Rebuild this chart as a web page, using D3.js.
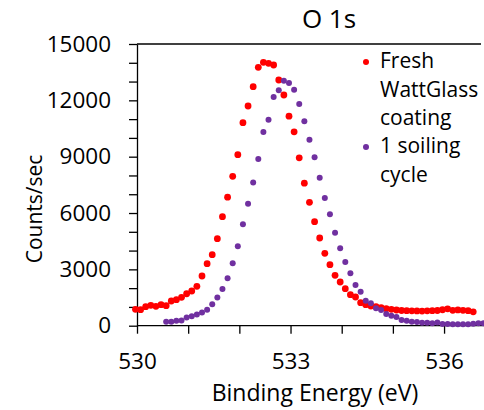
<!DOCTYPE html>
<html>
<head>
<meta charset="utf-8">
<script src="https://cdn.jsdelivr.net/npm/d3@7"></script>
<style>
  body { margin: 0; background: #fff; }
  svg { display: block; font-family: "Open Sans", sans-serif; }
</style>
</head>
<body>
<div id="chart"></div>
<script>
// binding energy grid (eV), shared by both scans
const energy = [
  529.97, 530.07, 530.17, 530.27, 530.37, 530.47, 530.57, 530.67, 530.77, 530.87,
  530.97, 531.07, 531.17, 531.27, 531.37, 531.47, 531.57, 531.67, 531.77, 531.87,
  531.97, 532.07, 532.17, 532.27, 532.37, 532.47, 532.57, 532.67, 532.77, 532.87,
  532.97, 533.07, 533.17, 533.27, 533.37, 533.47, 533.57, 533.67, 533.77, 533.87,
  533.97, 534.07, 534.17, 534.27, 534.37, 534.47, 534.57, 534.67, 534.77, 534.87,
  534.97, 535.07, 535.17, 535.27, 535.37, 535.47, 535.57, 535.67, 535.77, 535.87,
  535.97, 536.07, 536.17, 536.27, 536.37, 536.47, 536.57, 536.67, 536.77
];

// Fresh WattGlass coating (529.97 .. 536.57)
const freshCounts = [
  873, 852, 1012, 1086, 1033, 1118, 1065, 1315, 1385, 1512,
  1700, 1848, 2098, 2647, 3302, 3781, 4633, 5804, 6843, 7956,
  9106, 10810, 11699, 12727, 13760, 14026, 13973, 13882, 13084, 12285,
  11156, 10325, 8941, 7588, 6571, 5538, 4670, 3855, 3248, 2684,
  2327, 1970, 1651, 1528, 1225, 1118, 1049, 1012, 958, 905,
  873, 836, 810, 800, 790, 785, 780, 790, 800, 810,
  850, 900, 820, 840, 820, 800, 740
];

// 1 soiling cycle (530.57 .. 536.77)
const soiledCounts = [
  213, 213, 266, 280, 440, 500, 600, 700, 845, 1140,
  1502, 1954, 2524, 3328, 4228, 5400, 6497, 7625, 8877, 10315,
  10970, 12178, 12535, 13046, 12924, 12567, 11805, 10884, 9905, 8967,
  7881, 6800, 5932, 4952, 4122, 3392, 2790, 2167, 1810, 1331,
  1193, 927, 836, 623, 533, 463, 304, 266, 213, 197,
  160, 160, 128, 170, 90, 90, 75, 75, 75, 75,
  106, 128, 128
];

const xTicks = [530, 531, 532, 533, 534, 535, 536];
const xLabels = [530, 533, 536];
const yTicks = d3.range(0, 15001, 1000);
const yLabels = [0, 3000, 6000, 9000, 12000, 15000];

const legendLines = [
  { text: "Fresh", dot: "#ff0000" },
  { text: "WattGlass" },
  { text: "coating" },
  { text: "1 soiling", dot: "#7030a0" },
  { text: "cycle" }
];

const fresh = freshCounts.map((c, i) => ({ e: energy[i], c: c }));
const soiled = soiledCounts.map((c, i) => ({ e: energy[i + 6], c: c }));

const W = 484, H = 410;
const margin = { top: 44, right: 0, bottom: 84, left: 137 };

const svg = d3.select("#chart").append("svg")
  .attr("width", W)
  .attr("height", H);

const x = d3.scaleLinear().domain([530, 536.8]).range([margin.left, margin.left + 348]);
const y = d3.scaleLinear().domain([0, 15000]).range([H - margin.bottom - 0.3, margin.top]);

// top border of the plot area
svg.append("line")
  .attr("x1", x(530)).attr("x2", 481)
  .attr("y1", y(15000)).attr("y2", y(15000))
  .attr("stroke", "#000")
  .attr("stroke-width", 1.3);

const xAxis = svg.append("g")
  .attr("transform", `translate(0,${y(0)})`)
  .call(d3.axisBottom(x)
    .tickValues(xTicks)
    .tickSize(8)
    .tickSizeOuter(0)
    .tickPadding(19)
    .tickFormat(d => xLabels.includes(d) ? d : ""));

const yAxis = svg.append("g")
  .attr("transform", `translate(${x(530)},0)`)
  .call(d3.axisLeft(y)
    .tickValues(yTicks)
    .tickSize(8)
    .tickSizeOuter(0)
    .tickPadding(18)
    .tickFormat(d => yLabels.includes(d) ? d : ""));

xAxis.select(".domain").attr("d", `M${x(530)},0H${W}`);

[xAxis, yAxis].forEach(g => {
  g.selectAll("path, line").attr("stroke", "#000").attr("stroke-width", 1.3);
  g.selectAll("text")
    .style("font-family", "'Open Sans', sans-serif")
    .style("font-size", "22.5px")
    .attr("fill", "#000");
});

svg.append("g")
  .selectAll("circle")
  .data(fresh)
  .enter()
  .append("circle")
  .attr("cx", d => x(d.e))
  .attr("cy", d => y(d.c))
  .attr("r", 3.4)
  .attr("fill", "#ff0000");

svg.append("g")
  .selectAll("circle")
  .data(soiled)
  .enter()
  .append("circle")
  .attr("cx", d => x(d.e))
  .attr("cy", d => y(d.c))
  .attr("r", 3)
  .attr("fill", "#7030a0");

svg.append("text")
  .attr("x", 329)
  .attr("y", 28)
  .attr("text-anchor", "middle")
  .style("font-size", "26px")
  .text("O 1s");

svg.append("text")
  .attr("x", 315)
  .attr("y", 401)
  .attr("text-anchor", "middle")
  .style("font-size", "23px")
  .text("Binding Energy (eV)");

svg.append("text")
  .attr("transform", "rotate(-90)")
  .attr("x", -209)
  .attr("y", 42)
  .attr("text-anchor", "middle")
  .style("font-size", "21px")
  .text("Counts/sec");

const legend = svg.append("g");

legend.selectAll("text")
  .data(legendLines)
  .enter()
  .append("text")
  .attr("x", 380)
  .attr("y", (d, i) => 68.3 + i * 28.35)
  .style("font-size", "21px")
  .text(d => d.text);

legend.selectAll("circle")
  .data(legendLines.map((d, i) => ({ ...d, i })).filter(d => d.dot))
  .enter()
  .append("circle")
  .attr("cx", 366)
  .attr("cy", d => 62 + d.i * 28.35)
  .attr("r", 3)
  .attr("fill", d => d.dot);
</script>
</body>
</html>
